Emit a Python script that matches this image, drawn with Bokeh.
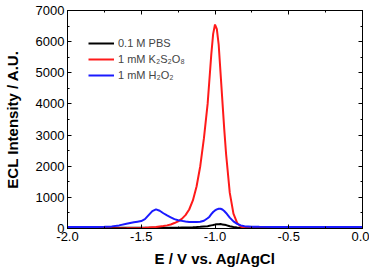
from bokeh.plotting import figure
from bokeh.models import (FixedTicker, LinearAxis, Legend, LegendItem, ColumnDataSource,
                          Range1d, NumeralTickFormatter)
from bokeh.embed import file_html
from bokeh.resources import INLINE

# Potential (V vs. Ag/AgCl)
E = [-2.0, -1.9, -1.8, -1.75, -1.7, -1.65, -1.6, -1.575, -1.55, -1.525, -1.5, -1.475,
     -1.45, -1.425, -1.4, -1.375, -1.35, -1.325, -1.3, -1.275, -1.25, -1.225, -1.2,
     -1.175, -1.15, -1.125, -1.1, -1.075, -1.05, -1.0375, -1.025, -1.0125, -1.0,
     -0.9875, -0.975, -0.9625, -0.95, -0.9375, -0.925, -0.9, -0.875, -0.85, -0.825,
     -0.8, -0.75, -0.7, -0.6, -0.5, -0.4, -0.3, -0.2, -0.1, 0.0]

pbs = [25, 25, 25, 25, 25, 25, 25, 25, 25, 25, 25, 25,
       25, 25, 25, 25, 25, 25, 25, 27, 28, 29, 30,
       35, 40, 47, 55, 65, 75, 88, 100, 112, 125,
       133, 140, 141, 132, 122, 110, 70, 45, 30, 26,
       25, 25, 25, 25, 25, 25, 25, 25, 25, 25]

k2s2o8 = [0, 0, 0, 0, 0, 2, 5, 7, 9, 12, 15, 22,
          30, 40, 50, 65, 80, 100, 130, 175, 230, 310, 430,
          610, 900, 1350, 2000, 2900, 4000, 4800, 5600, 6250, 6550,
          6400, 5900, 5000, 4100, 3200, 2400, 1150, 480, 180, 60,
          20, 5, 0, 0, 0, 0, 0, 0, 0, 0]

h2o2 = [50, 50, 52, 58, 68, 100, 150, 175, 200, 220, 240, 300,
        430, 560, 615, 570, 490, 420, 360, 300, 265, 245, 225,
        210, 205, 205, 215, 250, 330, 380, 460, 530, 580,
        615, 635, 635, 610, 560, 500, 350, 230, 150, 100,
        75, 60, 55, 50, 50, 50, 50, 50, 50, 50]

labels = ["0.1 M PBS", "1 mM K\u2082S\u2082O\u2088", "1 mM H\u2082O\u2082"]
colors = ["black", "#ff1a1a", "#1a1aff"]

x_major = [-2.0, -1.5, -1.0, -0.5, 0.0]
x_minor = [-2.0, -1.75, -1.5, -1.25, -1.0, -0.75, -0.5, -0.25, 0.0]
y_major = [0, 1000, 2000, 3000, 4000, 5000, 6000, 7000]
y_minor = [0, 500, 1000, 1500, 2000, 2500, 3000, 3500, 4000, 4500, 5000, 5500, 6000, 6500, 7000]

FONT = "Liberation Sans"

p = figure(width=369, height=272, output_backend="svg", toolbar_location=None,
           x_range=Range1d(-2.0, 0.0), y_range=Range1d(0, 7000),
           min_border_left=66, min_border_right=7, min_border_top=10, min_border_bottom=44,
           x_axis_label="E / V vs. Ag/AgCl", y_axis_label="ECL Intensity / A.U.")
p.grid.visible = False
p.outline_line_color = "black"
p.outline_line_width = 1
p.background_fill_color = "white"
p.border_fill_color = "white"

src = ColumnDataSource(dict(E=E, pbs=pbs, k=k2s2o8, h=h2o2))
r1 = p.line("E", "pbs", source=src, line_color=colors[0], line_width=2)
r2 = p.line("E", "k", source=src, line_color=colors[1], line_width=2)
r3 = p.line("E", "h", source=src, line_color=colors[2], line_width=2)

def style(ax, show_labels=True):
    ax.major_tick_in = 4
    ax.major_tick_out = 0
    ax.minor_tick_in = 2
    ax.minor_tick_out = 0
    ax.axis_line_color = "black"
    ax.major_tick_line_color = "black"
    ax.minor_tick_line_color = "black"
    ax.major_label_text_font = FONT
    ax.major_label_text_font_size = "13px"
    ax.major_label_text_color = "black"
    ax.major_label_standoff = 3
    ax.axis_label_text_font = FONT
    ax.axis_label_text_font_size = "15px"
    ax.axis_label_text_font_style = "bold"
    ax.axis_label_text_color = "black"
    if not show_labels:
        ax.major_label_text_font_size = "0px"
        ax.major_label_text_alpha = 0

xt = FixedTicker(ticks=x_major, minor_ticks=x_minor)
yt = FixedTicker(ticks=y_major, minor_ticks=y_minor)

p.xaxis[0].ticker = xt
p.xaxis[0].formatter = NumeralTickFormatter(format="0.0")
p.yaxis[0].ticker = yt
style(p.xaxis[0])
style(p.yaxis[0])
p.xaxis[0].axis_label_standoff = 6
p.yaxis[0].axis_label_standoff = 12

top = LinearAxis(ticker=FixedTicker(ticks=x_major, minor_ticks=x_minor))
style(top, False)
right = LinearAxis(ticker=FixedTicker(ticks=y_major, minor_ticks=y_minor))
style(right, False)
p.add_layout(top, "above")
p.add_layout(right, "right")

legend = Legend(items=[LegendItem(label=labels[0], renderers=[r1]),
                       LegendItem(label=labels[1], renderers=[r2]),
                       LegendItem(label=labels[2], renderers=[r3])],
                location=(21, 146), orientation="vertical",
                label_text_font=FONT, label_text_font_size="11px",
                glyph_width=26, glyph_height=14, label_height=14, spacing=2,
                padding=0, margin=0, label_standoff=4,
                border_line_color=None, background_fill_alpha=0)
p.add_layout(legend, "center")

open("out.html", "w").write(file_html(p, INLINE))
